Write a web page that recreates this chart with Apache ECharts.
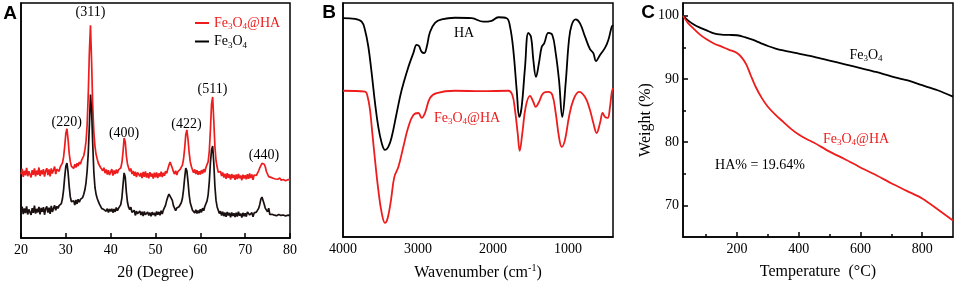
<!DOCTYPE html>
<html lang="en">
<head>
<meta charset="UTF-8">
<title>Fe3O4@HA characterization</title>
<script src="https://cdn.jsdelivr.net/npm/echarts@6/dist/echarts.min.js"></script>
<style>
    html, body { margin: 0; padding: 0; background: #fff; }
    #main { width: 955px; height: 281px; }
</style>
</head>
<body>
<div id="main"></div>
<script type="text/javascript">
    // ---- A: XRD, sampled from 20 to 80 deg every 0.25 deg
    var xrdStart = 20, xrdStep = 0.25;
    var xrdFeHA = [
        27.1, 29.4, 26.0, 28.6, 26.7, 29.8, 26.3, 28.4, 29.1, 25.8, 28.9, 26.9, 29.6, 26.2, 28.7, 26.9, 30.0, 26.4, 28.8, 27.1,
        29.3, 26.1, 28.5, 29.7, 26.8, 29.2, 26.2, 29.6, 27.4, 28.9, 30.4, 27.2, 29.3, 29.9, 28.4, 30.2, 30.0, 32.0, 34.5, 39.0,
        44.5, 46.5, 42.0, 36.0, 32.5, 30.5, 31.3, 29.6, 31.4, 30.0, 31.8, 30.6, 32.3, 31.4, 33.0, 33.2, 35.0, 37.5, 41.0, 48.0,
        61.0, 79.0, 90.5, 75.0, 56.0, 45.0, 39.0, 35.5, 33.6, 31.8, 32.3, 30.0, 30.4, 28.6, 29.9, 27.6, 29.2, 27.0, 28.9, 26.8,
        27.3, 29.3, 26.6, 28.7, 27.2, 29.1, 27.6, 29.0, 28.4, 29.8, 32.0, 36.5, 42.5, 41.0, 35.0, 31.5, 29.9, 28.4, 29.6, 27.2,
        28.5, 26.5, 28.2, 25.9, 27.9, 28.5, 26.2, 27.7, 25.5, 28.1, 26.0, 28.3, 25.7, 27.6, 25.4, 28.0, 26.1, 27.4, 25.3, 27.8,
        25.8, 27.9, 25.5, 27.5, 26.2, 28.2, 25.9, 27.8, 26.5, 28.4, 27.5, 29.4, 31.0, 32.3, 31.6, 29.8, 28.2, 27.2, 28.6, 26.8,
        28.3, 28.9, 29.2, 29.6, 31.0, 33.5, 38.0, 44.0, 46.0, 42.0, 36.5, 32.5, 30.4, 29.0, 27.8, 29.2, 27.2, 28.8, 26.9, 28.4,
        27.0, 28.9, 27.4, 29.3, 28.0, 30.0, 30.8, 32.5, 37.0, 46.0, 57.0, 60.0, 50.0, 39.0, 33.0, 30.2, 28.0, 27.6, 28.3, 26.4,
        27.9, 25.7, 27.3, 25.2, 27.6, 25.6, 27.1, 24.9, 27.2, 25.5, 26.8, 24.8, 27.0, 25.1, 27.3, 25.4, 26.6, 24.6, 26.9, 25.3,
        26.7, 25.0, 27.2, 25.2, 27.5, 25.5, 27.0, 24.8, 26.8, 26.5, 26.6, 27.3, 28.6, 29.8, 30.6, 31.8, 32.3, 31.4, 30.2, 28.2,
        27.8, 26.1, 26.0, 25.8, 25.3, 25.4, 25.0, 25.1, 24.7, 25.0, 25.1, 25.5, 24.6, 24.7, 24.9, 25.2, 24.4, 24.8, 24.8, 24.9, 24.8
    ];
    var xrdFe = [
        11.0, 13.3, 10.2, 12.6, 10.6, 13.5, 10.0, 12.2, 13.0, 9.8, 12.7, 10.7, 13.8, 10.4, 12.4, 10.9, 13.2, 10.1, 12.8, 11.2,
        13.1, 9.9, 12.5, 13.4, 10.8, 12.9, 10.3, 13.7, 11.1, 12.6, 13.9, 11.8, 13.5, 12.6, 13.8, 13.2, 14.6, 16.8, 20.5, 26.0,
        30.5, 31.9, 28.0, 22.0, 17.5, 15.4, 14.8, 15.9, 14.0, 16.2, 14.5, 16.5, 15.2, 16.4, 15.6, 17.2, 18.6, 20.5, 23.5, 28.5,
        36.0, 48.0, 61.0, 54.0, 40.0, 28.0, 21.5, 18.6, 16.8, 15.6, 14.4, 13.6, 12.6, 13.0, 12.1, 12.8, 11.4, 12.5, 10.9, 12.3,
        11.3, 12.4, 10.8, 12.3, 11.1, 13.0, 11.6, 12.6, 12.9, 14.2, 17.0, 22.5, 27.7, 26.0, 19.5, 15.2, 13.1, 12.1, 13.1, 10.9,
        10.1, 11.8, 9.6, 11.4, 10.3, 10.2, 11.5, 9.8, 11.2, 9.3, 11.3, 9.9, 10.1, 11.1, 9.6, 10.8, 9.2, 11.0, 9.8, 10.7,
        9.3, 11.3, 9.9, 11.1, 9.7, 11.6, 10.2, 11.9, 12.6, 14.0, 16.0, 17.5, 18.7, 17.8, 18.2, 16.0, 13.8, 13.2, 11.6, 12.8,
        12.5, 13.3, 13.0, 15.0, 16.8, 20.5, 25.5, 29.8, 28.6, 24.0, 18.5, 15.0, 13.4, 11.8, 12.6, 10.7, 12.0, 10.4, 11.7, 10.6,
        12.2, 10.9, 12.7, 11.6, 13.4, 14.2, 15.8, 18.5, 24.0, 32.0, 37.5, 39.1, 32.0, 22.0, 16.0, 13.2, 11.8, 10.4, 11.4, 9.6,
        11.2, 9.3, 10.8, 9.0, 11.1, 9.6, 10.7, 8.8, 10.9, 9.4, 10.5, 8.9, 10.8, 9.1, 11.2, 9.5, 10.4, 8.7, 10.7, 9.3,
        10.5, 9.1, 11.1, 11.9, 9.8, 10.0, 10.8, 9.0, 10.7, 10.5, 11.0, 11.8, 12.6, 14.2, 16.5, 17.4, 16.8, 14.4, 12.6, 13.3,
        11.2, 12.7, 10.0, 9.9, 10.1, 9.5, 9.7, 9.3, 9.5, 9.7, 10.0, 9.2, 9.6, 9.6, 9.8, 9.1, 9.4, 9.5, 9.7, 9.7, 9.6
    ];
    var peakNames = ['(220)', '(311)', '(400)', '(422)', '(511)', '(440)'];
    var peakAngles = [30.2, 35.5, 43.0, 56.9, 62.7, 74.2];
    var peakLabelLevel = [49.4, 96.0, 44.7, 48.5, 63.4, 35.3];

    // ---- B: FTIR
    var irWaveHA = [4000, 3840, 3751, 3707, 3662, 3618, 3573, 3529, 3484, 3440, 3396, 3351, 3284, 3218, 3129,
        3062, 3018, 2987, 2951, 2916, 2884, 2840, 2773, 2684, 2507, 2284, 2129, 2018, 1929, 1818, 1773, 1729,
        1684, 1649, 1618, 1573, 1529, 1493, 1462, 1427, 1387, 1351, 1316, 1262, 1209, 1164, 1120, 1076, 1031,
        987, 951, 898, 840, 773, 707, 662, 627, 573, 507, 462, 418, 400];
    var irHA = [93.5, 93.2, 92.0, 88.5, 81.3, 70.1, 57.3, 47.0, 40.2, 37.2, 38.5, 42.7, 53.0, 62.8, 72.6,
        78.6, 82.1, 81.6, 79.1, 78.6, 81.2, 87.6, 91.5, 93.0, 93.7, 93.5, 92.0, 92.4, 93.9, 93.5, 89.9, 79.9,
        62.8, 51.3, 55.6, 72.6, 87.2, 85.5, 75.6, 68.4, 74.4, 81.2, 82.9, 87.2, 86.3, 78.6, 67.1, 51.3, 65.8,
        84.2, 90.6, 93.0, 91.3, 85.6, 80.3, 78.6, 75.2, 77.8, 80.8, 84.2, 89.7, 90.6];
    var irWaveFeHA = [4000, 3707, 3671, 3640, 3609, 3573, 3529, 3484, 3440, 3404, 3360, 3316, 3262, 3196, 3129,
        3062, 2996, 2951, 2907, 2840, 2751, 2507, 2151, 1796, 1742, 1707, 1671, 1644, 1609, 1564, 1507, 1462,
        1431, 1387, 1329, 1262, 1209, 1164, 1120, 1084, 1040, 987, 929, 853, 773, 707, 662, 618, 573, 538,
        507, 471, 440, 418, 400];
    var irFeHA = [62.5, 62.1, 59.8, 54.3, 44.4, 32.9, 20.1, 10.3, 6.0, 8.1, 15.8, 25.6, 29.9, 38.5, 47.0,
        52.1, 53.0, 50.9, 53.0, 59.4, 61.5, 62.5, 62.3, 62.5, 60.7, 54.3, 44.4, 36.8, 44.4, 55.6, 60.3, 57.7,
        55.6, 57.7, 61.5, 62.0, 60.7, 53.0, 42.7, 38.5, 41.5, 51.3, 58.5, 62.0, 59.8, 54.3, 48.7, 44.4, 48.7, 53.0,
        51.3, 50.9, 55.6, 61.5, 63.7];
    var irTicks = [4000, 3000, 2000, 1000];

    // ---- C: TGA
    var tgaTempFe = [25, 40, 60, 80, 100, 125, 150, 175, 200, 225, 250, 275, 300, 325, 350, 400, 450, 500,
        550, 600, 650, 700, 750, 800, 850, 900];
    var tgaFe = [100, 99.3, 98.6, 98.1, 97.7, 97.2, 97.0, 96.95, 96.9, 96.6, 96.2, 95.7, 95.2, 94.8, 94.5,
        94.0, 93.5, 92.9, 92.3, 91.7, 91.1, 90.4, 89.8, 89.0, 88.2, 87.2];
    var tgaTempFeHA = [25, 40, 60, 80, 100, 125, 150, 175, 200, 215, 230, 245, 260, 280, 300, 325, 350, 375,
        400, 425, 450, 500, 550, 600, 650, 700, 750, 800, 850, 900];
    var tgaFeHA = [100, 98.9, 97.9, 97.0, 96.3, 95.6, 95.1, 94.6, 94.1, 93.4, 92.3, 90.5, 88.8, 87.0, 85.6,
        84.3, 83.2, 82.1, 81.2, 80.5, 79.9, 78.5, 77.3, 76.0, 74.8, 73.5, 72.3, 71.1, 69.4, 67.6];
    var tgaTempTicks = [200, 400, 600, 800];
    var tgaTempMinor = [100, 300, 500, 700];
    var tgaWeightTicks = [70, 80, 90, 100];
    var tgaWeightMinor = [75, 85, 95];

    var serif = "'Liberation Serif', 'Times New Roman', serif";
    var RED = '#ee1c1c';

    function pairs(xs, ys) {
        return ys.map(function (v, i) { return [xs[i], v]; });
    }
    var xrdAngles = xrdFeHA.map(function (v, i) { return xrdStart + i * xrdStep; });

    // chemical formula with subscript digits as rich text
    var chemRich = {
        n: { fontFamily: serif, fontSize: 14 },
        s: { fontFamily: serif, fontSize: 9, padding: [8, 0, 0, 0] }
    };
    function chem(txt) {
        return txt.split(/(\d)/).map(function (p) {
            if (!p) return '';
            return /\d/.test(p) ? '{s|' + p + '}' : '{n|' + p + '}';
        }).join('');
    }

    var myChart = echarts.init(document.getElementById('main'));

    function frameAxis(extra) {
        var base = {
            axisLine: { show: true, lineStyle: { color: '#000', width: 1.5 } },
            axisTick: { show: false },
            axisLabel: { show: false },
            splitLine: { show: false }
        };
        for (var k in extra) base[k] = extra[k];
        return base;
    }
    var tickLabel = { color: '#000', fontFamily: serif, fontSize: 14, margin: 5 };
    var nameStyle = { color: '#000', fontFamily: serif, fontSize: 16 };
    var plain = function (v) { return String(v); };
    var box = { show: true, borderColor: '#000', borderWidth: 1.5, outerBoundsMode: 'none', containLabel: false };

    var option = {
        animation: false,
        grid: [
            Object.assign({ left: 21, top: 3, width: 269, height: 235 }, box),
            Object.assign({ left: 343, top: 3, width: 270, height: 234 }, box),
            Object.assign({ left: 683, top: 3, width: 270, height: 234 }, box)
        ],
        legend: {
            left: 190, top: 11, orient: 'vertical', itemGap: 3,
            icon: 'rect', itemWidth: 14, itemHeight: 2,
            data: [
                { name: 'Fe3O4@HA', textStyle: { color: RED } },
                { name: 'Fe3O4', textStyle: { color: '#000' } }
            ],
            textStyle: { fontFamily: serif, fontSize: 14, rich: chemRich },
            formatter: function (name) { return chem(name); }
        },
        xAxis: [
            frameAxis({
                gridIndex: 0, type: 'value', min: 20, max: 80, interval: 10,
                axisTick: { show: true, inside: true, length: 5, lineStyle: { color: '#000', width: 1.5 } },
                axisLabel: Object.assign({ show: true, formatter: plain }, tickLabel),
                name: '2θ (Degree)', nameLocation: 'middle', nameGap: 27, nameTextStyle: nameStyle
            }),
            frameAxis({
                gridIndex: 1, type: 'value', min: 400, max: 4000, inverse: true,
                axisLabel: Object.assign({ show: true, customValues: irTicks, formatter: plain }, tickLabel),
                name: '{a|Wavenumber (cm}{p|-1}{a|)}', nameLocation: 'middle', nameGap: 26,
                nameTextStyle: Object.assign({
                    rich: {
                        a: { fontFamily: serif, fontSize: 16 },
                        p: { fontFamily: serif, fontSize: 10, padding: [0, 0, 9, 0] }
                    }
                }, nameStyle)
            }),
            frameAxis({
                gridIndex: 2, type: 'value', min: 25, max: 900,
                axisTick: { show: true, inside: true, length: 5, customValues: tgaTempTicks,
                    lineStyle: { color: '#000', width: 1.5 } },
                axisLabel: Object.assign({ show: true, customValues: tgaTempTicks, formatter: plain }, tickLabel),
                name: 'Temperature  (°C)', nameLocation: 'middle', nameGap: 27, nameTextStyle: nameStyle
            }),
            // minor ticks of panel C
            frameAxis({
                gridIndex: 2, type: 'value', min: 25, max: 900, position: 'bottom',
                axisLine: { show: false },
                axisTick: { show: true, inside: true, length: 3, customValues: tgaTempMinor,
                    lineStyle: { color: '#000', width: 1.5 } }
            })
        ],
        yAxis: [
            frameAxis({ gridIndex: 0, type: 'value', min: 0, max: 100 }),
            frameAxis({ gridIndex: 1, type: 'value', min: 0, max: 100 }),
            frameAxis({
                gridIndex: 2, type: 'value', min: 65, max: 102,
                axisTick: { show: true, inside: true, length: 5, customValues: tgaWeightTicks,
                    lineStyle: { color: '#000', width: 1.5 } },
                axisLabel: Object.assign({ show: true, customValues: tgaWeightTicks, formatter: plain },
                    tickLabel, { margin: 4 }),
                name: 'Weight (%)', nameLocation: 'middle', nameGap: 28, nameTextStyle: nameStyle
            }),
            frameAxis({
                gridIndex: 2, type: 'value', min: 65, max: 102, position: 'left',
                axisLine: { show: false },
                axisTick: { show: true, inside: true, length: 3, customValues: tgaWeightMinor,
                    lineStyle: { color: '#000', width: 1.5 } }
            })
        ],
        series: [
            {
                name: 'Fe3O4@HA', type: 'line', xAxisIndex: 0, yAxisIndex: 0,
                data: pairs(xrdAngles, xrdFeHA), showSymbol: false,
                lineStyle: { color: RED, width: 1.7 }, itemStyle: { color: RED },
                markPoint: {
                    symbol: 'circle', symbolSize: 0,
                    label: { show: true, position: 'inside', formatter: '{b}', color: '#000',
                        fontFamily: serif, fontSize: 14 },
                    data: peakNames.map(function (n, i) {
                        return { name: n, coord: [peakAngles[i], peakLabelLevel[i]] };
                    })
                }
            },
            {
                name: 'Fe3O4', type: 'line', xAxisIndex: 0, yAxisIndex: 0,
                data: pairs(xrdAngles, xrdFe), showSymbol: false,
                lineStyle: { color: '#1a1010', width: 1.7 }, itemStyle: { color: '#000' }
            },
            {
                name: 'HA', type: 'line', xAxisIndex: 1, yAxisIndex: 1,
                data: pairs(irWaveHA, irHA), showSymbol: false, smooth: 0.4,
                lineStyle: { color: '#000', width: 1.8 }
            },
            {
                name: 'Fe3O4@HA IR', type: 'line', xAxisIndex: 1, yAxisIndex: 1,
                data: pairs(irWaveFeHA, irFeHA), showSymbol: false, smooth: 0.4,
                lineStyle: { color: RED, width: 1.8 }
            },
            {
                name: 'Fe3O4 TGA', type: 'line', xAxisIndex: 2, yAxisIndex: 2,
                data: pairs(tgaTempFe, tgaFe), showSymbol: false, smooth: 0.3,
                lineStyle: { color: '#000', width: 1.8 }
            },
            {
                name: 'Fe3O4@HA TGA', type: 'line', xAxisIndex: 2, yAxisIndex: 2,
                data: pairs(tgaTempFeHA, tgaFeHA), showSymbol: false, smooth: 0.3,
                lineStyle: { color: RED, width: 1.8 }
            }
        ],
        graphic: [
            { type: 'text', x: 10, y: 14, style: { text: 'A', fill: '#000', align: 'center', verticalAlign: 'middle',
                font: "bold 19px 'Liberation Sans', Arial, sans-serif" } },
            { type: 'text', x: 329, y: 13, style: { text: 'B', fill: '#000', align: 'center', verticalAlign: 'middle',
                font: "bold 19px 'Liberation Sans', Arial, sans-serif" } },
            { type: 'text', x: 648, y: 13, style: { text: 'C', fill: '#000', align: 'center', verticalAlign: 'middle',
                font: "bold 19px 'Liberation Sans', Arial, sans-serif" } },
            { type: 'text', x: 464, y: 33, style: { text: 'HA', fill: '#000', align: 'center', verticalAlign: 'middle',
                fontFamily: serif, fontSize: 14 } },
            { type: 'text', x: 467, y: 118, style: { text: chem('Fe3O4@HA'), rich: chemRich, fill: RED,
                align: 'center', verticalAlign: 'middle' } },
            { type: 'text', x: 866, y: 55, style: { text: chem('Fe3O4'), rich: chemRich, fill: '#000',
                align: 'center', verticalAlign: 'middle' } },
            { type: 'text', x: 856, y: 139, style: { text: chem('Fe3O4@HA'), rich: chemRich, fill: RED,
                align: 'center', verticalAlign: 'middle' } },
            { type: 'text', x: 760, y: 165, style: { text: 'HA% = 19.64%', fill: '#000', align: 'center',
                verticalAlign: 'middle', fontFamily: serif, fontSize: 14 } }
        ]
    };
    myChart.setOption(option);
</script>
</body>
</html>
